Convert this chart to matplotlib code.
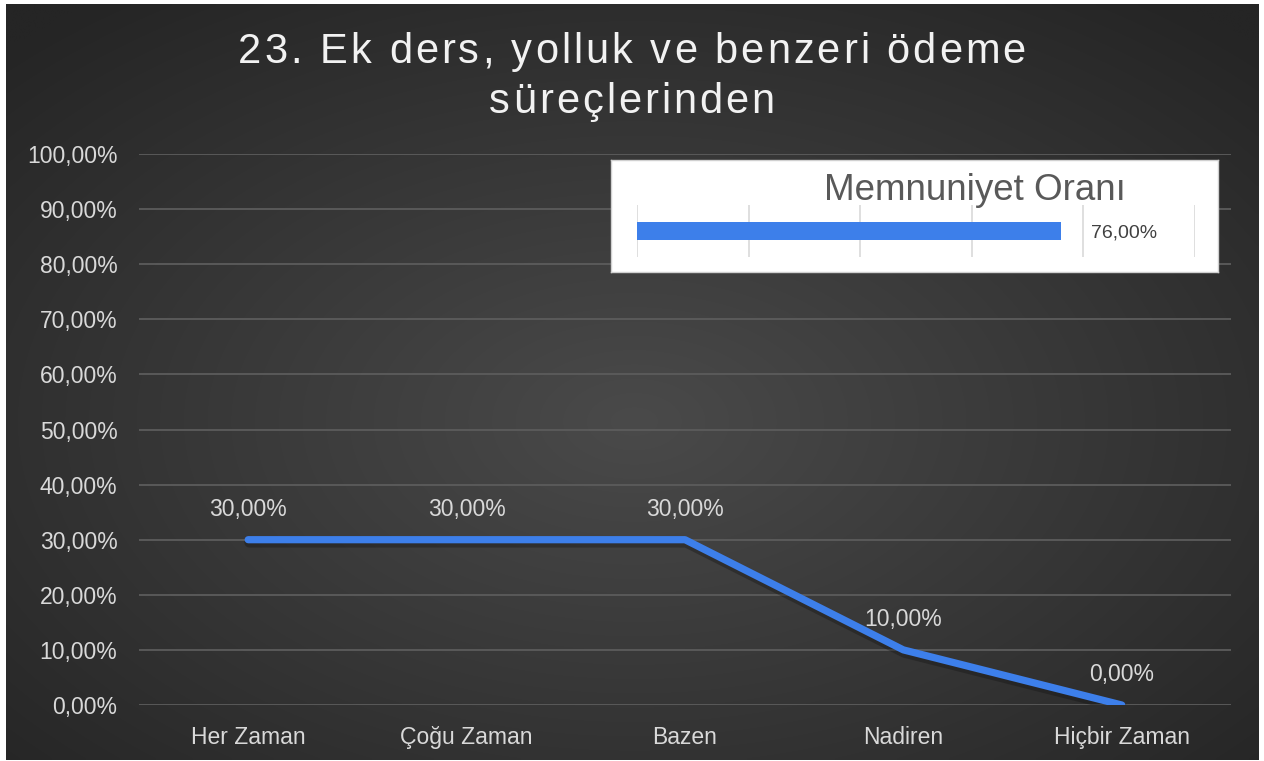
import numpy as np
import matplotlib
matplotlib.use("Agg")
import matplotlib.pyplot as plt
from matplotlib.font_manager import FontProperties

categories = ["Her Zaman", "Çoğu Zaman", "Bazen", "Nadiren", "Hiçbir Zaman"]
values = [30.0, 30.0, 30.0, 10.0, 0.0]
satisfaction_label = "Memnuniyet Oranı"
satisfaction = 76.0
yticks = [0, 10, 20, 30, 40, 50, 60, 70, 80, 90, 100]
title_lines = ["23. Ek ders, yolluk ve benzeri ödeme", "süreçlerinden"]

def pct(v):
    return f"{v:.2f}".replace(".", ",") + "%"

plt.rcParams['font.family'] = ['Liberation Sans', 'DejaVu Sans']

W, H = 1264, 761
fig = plt.figure(figsize=(W / 100, H / 100), dpi=100, facecolor="white")

# background with radial gradient
bg = fig.add_axes([6 / W, 1 / H, (W - 11) / W, (H - 5) / H])
bg.set_axis_off()
yy, xx = np.mgrid[0:200, 0:330]
cx, cy = 330 * 0.5, 200 * 0.55
r = np.sqrt(((xx - cx) / 330) ** 2 + ((yy - cy) / 200) ** 2) / 0.7
r = np.clip(r, 0, 1)
c0 = np.array([0x4a, 0x4a, 0x4a]) / 255
c1 = np.array([0x25, 0x25, 0x25]) / 255
img = c0[None, None, :] * (1 - r[..., None]) + c1[None, None, :] * r[..., None]
bg.imshow(img, aspect="auto", extent=[0, 1, 0, 1], interpolation="bilinear")
bg.set_xlim(0, 1)
bg.set_ylim(0, 1)

# main axes
ax = fig.add_axes([139 / W, (H - 705) / H, 1092 / W, 551 / H])
ax.set_facecolor("none")
x = np.arange(len(categories))
shadow = ax.transData + matplotlib.transforms.ScaledTranslation(1 / 100, -3 / 100, fig.dpi_scale_trans)
ax.plot(x, values, color="#111111", lw=7, alpha=0.35, solid_capstyle="round",
        solid_joinstyle="round", zorder=2, transform=shadow)
ax.plot(x, values, color="#3d7fea", lw=5.2, solid_capstyle="round",
        solid_joinstyle="round", zorder=3)
ax.set_xlim(-0.5, len(categories) - 0.5)
ax.set_ylim(0, 100)
ax.set_yticks(yticks)
ax.set_yticklabels([pct(v) for v in yticks])
ax.set_xticks(x)
ax.set_xticklabels(categories)
ax.tick_params(axis="both", length=0, colors="#d9d9d9", labelsize=16.5)
ax.tick_params(axis="y", pad=15.5)
ax.tick_params(axis="x", pad=15)
ax.grid(axis="y", color="#5c5c5c", lw=1.3, zorder=1)
ax.set_axisbelow(True)
for s in ax.spines.values():
    s.set_visible(False)
for xi, v in zip(x, values):
    ax.annotate(pct(v), (xi, v), xytext=(0, 19), textcoords="offset pixels",
                ha="center", va="bottom", color="#d9d9d9", fontsize=16.5, zorder=4)

# title with letter spacing
renderer = fig.canvas.get_renderer()
fp = FontProperties(family="Liberation Sans", size=30)
spacing_px = 3.0
baselines = [63, 113]
for line, base in zip(title_lines, baselines):
    widths = [renderer.get_text_width_height_descent(ch, fp, ismath=False)[0] for ch in line]
    total = sum(widths) + spacing_px * (len(line) - 1)
    xpos = W / 2 - total / 2
    for ch, w in zip(line, widths):
        if ch != " ":
            fig.text(xpos / W, 1 - base / H, ch, ha="left", va="baseline",
                     color="#f2f2f2", fontproperties=fp)
        xpos += w + spacing_px

# inset box
box = fig.add_axes([611 / W, (H - 272) / H, 607 / W, 112 / H])
box.set_facecolor("white")
box.set_xticks([])
box.set_yticks([])
for s in box.spines.values():
    s.set_color("#d0d0d0")
    s.set_linewidth(1)

ins = fig.add_axes([637 / W, (H - 257) / H, 558 / W, 52 / H])
ins.set_facecolor("none")
ins.barh([0], [satisfaction], height=0.33, color="#3d7fea", zorder=3)
ins.set_xlim(0, 100)
ins.set_ylim(-0.5, 0.5)
ins.set_xticks([0, 20, 40, 60, 80, 100])
ins.set_yticks([])
ins.tick_params(length=0, labelbottom=False)
ins.grid(axis="x", color="#d9d9d9", lw=1.2, zorder=1)
for s in ins.spines.values():
    s.set_visible(False)
ins.annotate(pct(satisfaction), (satisfaction, 0), xytext=(30, -2),
             textcoords="offset pixels", ha="left", va="center",
             color="#404040", fontsize=14)
fig.text(975 / W, 1 - 190 / H, satisfaction_label, ha="center", va="center",
         color="#595959", fontsize=26.5)

fig.savefig("out.png", dpi=100, facecolor="white")
